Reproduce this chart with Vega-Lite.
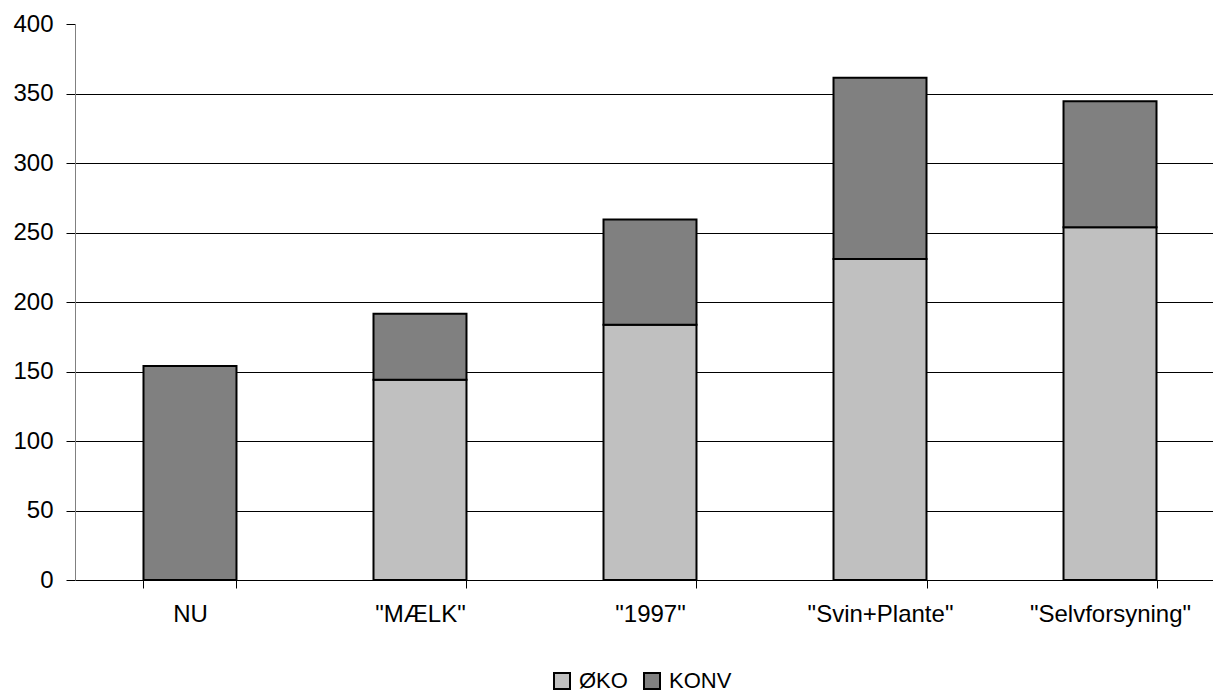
{
  "$schema": "https://vega.github.io/schema/vega-lite/v6.json",
  "autosize": {"type": "none"},
  "width": 1138,
  "height": 556,
  "padding": {"left": 75, "top": 24, "right": 0, "bottom": 113},
  "background": "white",
  "config": {
    "font": "Liberation Sans",
    "view": {"stroke": null},
    "axis": {"labelFont": "Liberation Sans", "labelColor": "black"}
  },
  "data": {
    "values": [
      {"scenarie": "NU", "type": "KONV", "rank": 2, "value": 154},
      {"scenarie": "\"MÆLK\"", "type": "ØKO", "rank": 1, "value": 144},
      {"scenarie": "\"MÆLK\"", "type": "KONV", "rank": 2, "value": 47.5},
      {"scenarie": "\"1997\"", "type": "ØKO", "rank": 1, "value": 183.7},
      {"scenarie": "\"1997\"", "type": "KONV", "rank": 2, "value": 75.6},
      {"scenarie": "\"Svin+Plante\"", "type": "ØKO", "rank": 1, "value": 231},
      {"scenarie": "\"Svin+Plante\"", "type": "KONV", "rank": 2, "value": 130.4},
      {"scenarie": "\"Selvforsyning\"", "type": "ØKO", "rank": 1, "value": 253.7},
      {"scenarie": "\"Selvforsyning\"", "type": "KONV", "rank": 2, "value": 90.7}
    ]
  },
  "mark": {"type": "bar", "stroke": "black", "strokeWidth": 2},
  "encoding": {
    "x": {
      "field": "scenarie",
      "type": "nominal",
      "sort": ["NU", "\"MÆLK\"", "\"1997\"", "\"Svin+Plante\"", "\"Selvforsyning\""],
      "scale": {"range": [0, 1150], "paddingInner": 0.5957, "paddingOuter": 0.2978},
      "axis": {
        "title": null,
        "labelAngle": 0,
        "labelFontSize": 24,
        "labelPadding": 14,
        "domain": false,
        "ticks": true,
        "tickBand": "extent",
        "tickSize": 8,
        "tickColor": "black",
        "tickWidth": 1,
        "grid": false
      }
    },
    "y": {
      "field": "value",
      "type": "quantitative",
      "stack": "zero",
      "scale": {"domain": [0, 400], "nice": false},
      "axis": {
        "title": null,
        "values": [0, 50, 100, 150, 200, 250, 300, 350, 400],
        "labelFontSize": 24,
        "labelPadding": 13,
        "tickSize": 9,
        "tickColor": "black",
        "domainColor": "#808080",
        "domainWidth": 1,
        "grid": true,
        "gridColor": "black",
        "gridWidth": 1,
        "gridOpacity": {"condition": {"test": "datum.value === 400", "value": 0}, "value": 1}
      }
    },
    "color": {
      "field": "type",
      "type": "nominal",
      "scale": {"domain": ["ØKO", "KONV"], "range": ["#c0c0c0", "#808080"]},
      "legend": {
        "title": null,
        "orient": "none",
        "direction": "horizontal",
        "legendX": 476,
        "legendY": 646,
        "padding": 0,
        "symbolType": "square",
        "symbolSize": 256,
        "symbolStrokeColor": "black",
        "symbolStrokeWidth": 2,
        "symbolOpacity": 1,
        "labelFontSize": 22,
        "labelColor": "black",
        "labelOffset": 6,
        "columnPadding": 12
      }
    },
    "order": {"field": "rank", "type": "quantitative", "sort": "ascending"}
  }
}
